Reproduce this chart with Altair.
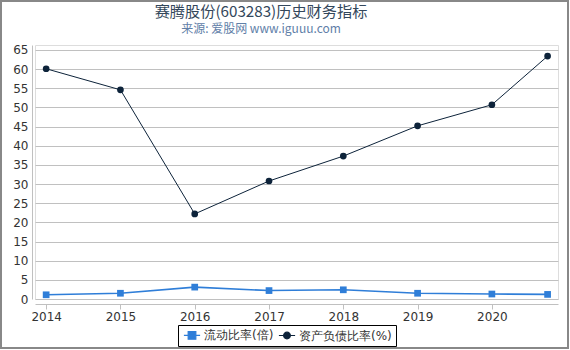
import altair as alt
import pandas as pd

years = [2014, 2015, 2016, 2017, 2018, 2019, 2020, 2020.75]
current_ratio = [1.1, 1.5, 3.1, 2.2, 2.4, 1.5, 1.3, 1.2]
debt_ratio = [60.1, 54.6, 22.2, 30.8, 37.3, 45.2, 50.7, 63.4]
series_names = ["流动比率(倍)", "资产负债比率(%)"]
x_ticks = [2014, 2015, 2016, 2017, 2018, 2019, 2020]
y_ticks = list(range(0, 70, 5))
title_text = "赛腾股份(603283)历史财务指标"
subtitle_text = "来源: 爱股网 www.iguuu.com"

rows = []
for i, yr in enumerate(years):
    rows.append({"year": yr, "series": series_names[0], "value": current_ratio[i]})
    rows.append({"year": yr, "series": series_names[1], "value": debt_ratio[i]})
df = pd.DataFrame(rows)

colors = ["#2f7ed8", "#0d233a"]
legend_shapes = [
    "M-1.8,0H1.8M-0.85,-0.85H0.85V0.85H-0.85Z",
    "M-1.8,0H1.8M0.75,0A0.75,0.75,0,1,1,-0.75,0A0.75,0.75,0,1,1,0.75,0Z",
]

x = alt.X("year:Q",
          scale=alt.Scale(domain=[2013.85, 2020.89], nice=False, zero=False),
          axis=alt.Axis(values=x_ticks, format="d", title=None, grid=False,
                        offset=5, domainColor="#c0c0c0", tickColor="#c0c0c0",
                        tickSize=5, labelColor="#333333", labelFontSize=12,
                        labelFont="DejaVu Sans", labelPadding=2))
y = alt.Y("value:Q",
          scale=alt.Scale(domain=[0, 66.3], nice=False),
          axis=alt.Axis(values=y_ticks, title=None, grid=True, gridColor="#c0c0c0",
                        offset=3, domainColor="#c0c0c0", ticks=False,
                        labelColor="#333333", labelFontSize=12,
                        labelFont="DejaVu Sans", labelPadding=4))

base = alt.Chart(df)
s0 = alt.datum.series == series_names[0]
s1 = alt.datum.series == series_names[1]

line0 = base.transform_filter(s0).mark_line(color=colors[0], strokeWidth=1.6).encode(x=x, y=y)
line1 = base.transform_filter(s1).mark_line(color=colors[1], strokeWidth=1).encode(x=x, y=y)
squares = base.transform_filter(s0).mark_square(size=45, opacity=1, color=colors[0]).encode(x=x, y=y)
circles = base.transform_filter(s1).mark_circle(size=45, opacity=1, color=colors[1]).encode(x=x, y=y)

leg = alt.Legend(orient="none", legendX=143, legendY=280, direction="horizontal",
                 strokeColor="#000000", padding=4, labelFontSize=12,
                 labelFont="DejaVu Sans", labelColor="#333333", symbolSize=81,
                 symbolStrokeWidth=1.2, columnPadding=2, symbolOpacity=1,
                 symbolOffset=4, labelOffset=6)

legend_layer = base.mark_point(filled=True, size=0).encode(
    x=x, y=y,
    color=alt.Color("series:N", scale=alt.Scale(domain=series_names, range=colors),
                    title="", legend=leg),
    stroke=alt.Stroke("series:N", scale=alt.Scale(domain=series_names, range=colors),
                      title="", legend=leg),
    shape=alt.Shape("series:N", scale=alt.Scale(domain=series_names, range=legend_shapes),
                    title="", legend=leg),
)

one = pd.DataFrame({"k": [0]})
frame = alt.Chart(one).mark_rect(
    fill=None, stroke="#888888", strokeWidth=2
).encode(x=alt.value(-34), x2=alt.value(533), y=alt.value(-44), y2=alt.value(303))

title_mark = alt.Chart(one).mark_text(
    text=title_text, fontSize=15.2, font="Noto Sans CJK SC", color="#33475b",
    align="center", baseline="middle"
).encode(x=alt.value(226), y=alt.value(-33))

subtitle_mark = alt.Chart(one).mark_text(
    text=subtitle_text, fontSize=12, font="Noto Sans CJK SC", color="#5f80a8",
    align="center", baseline="middle"
).encode(x=alt.value(226), y=alt.value(-16))

chart = alt.layer(line0, line1, squares, circles, legend_layer, frame, title_mark, subtitle_mark).properties(
    width=523, height=254,
    padding={"left": 35, "top": 45, "right": 12, "bottom": 51},
    autosize=alt.AutoSizeParams(type="none"),
).configure_view(stroke=None).configure(background="white")

chart.save("out.html", embed_options={"renderer": "svg", "actions": False})
